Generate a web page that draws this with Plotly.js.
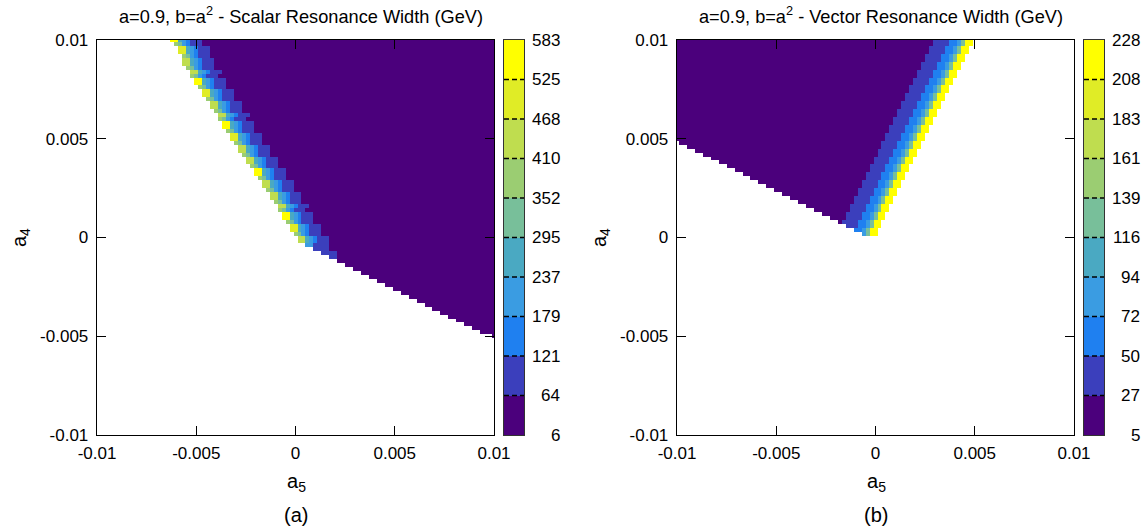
<!DOCTYPE html>
<html><head><meta charset="utf-8">
<script src="https://cdn.plot.ly/plotly-3.0.1.min.js"></script>
<style>html,body{margin:0;padding:0;background:#fff;}#chart{width:1146px;height:529px;}</style>
</head><body><div id="chart"></div>
<script>
// ---------------- grid (a5 columns, a4 rows), step 0.0002 ----------------
const GRID_MIN = -0.01, GRID_STEP = 0.0002, GRID_N = 101;
const a5Values = [];
const a4Values = [];
for (let i = 0; i < GRID_N; i++) { a5Values.push(+(GRID_MIN + i * GRID_STEP).toFixed(4)); a4Values.push(+(GRID_MIN + i * GRID_STEP).toFixed(4)); }

// axis ticks
const axisTickVals = [-0.01, -0.005, 0, 0.005, 0.01];
const axisTickText = ['-0.01', '-0.005', '0', '0.005', '0.01'];

// ---------------- (a) scalar resonance width ----------------
// rows from a4 = 0.01 (top) downwards: first filled a5 column index
const scalarStartCol = [19,20,21,21,22,22,22,23,24,24,25,25,26,27,27,28,29,29,30,31,31,32,32,33,34,34,35,36,36,37,38,38,39,40,40,41,42,42,43,44,44,45,46,46,47,47,48,49,49,50,51,
  51,53,55,57,59,61,63,65,67,69,71,73,75,77,79,81,83,85,87,89,91,93,95,97,100];
// band kind of each row (edge cells left of the interior)
const scalarBandKind = ['Y','L','E','E','L','B','B','L','B','L','Y','Y','L','E','E','L','B','B','L','B','L','Y','Y','L','E','E','L','B','B','L','B','B','L','Y','Y','L','B','B','L','B','B','L','B','L','Y','Y','L','E','E','L','B',
  'B','C','D','D','d','-','-','-','-','-','-','-','-','-','-','-','-','-','-','-','-','-','-','-','-'];
const scalarBandY = [560, 560, 280, 200, 150, 90, 90, 90];
const scalarBandE = [500, 500, 280, 200, 150, 90, 90, 90];
const scalarBandB = [440, 440, 280, 200, 150, 90, 90, 90];
const scalarBandL = [380, 300, 210, 150, 90, 90, 90];
const scalarBandC = [200, 200, 90, 90, 90, 90];
const scalarBandD = [90, 90, 90, 90];
const scalarBandd = [90, 90];
const scalarInterior = 30;
const scalarTickText = ['6','64','121','179','237','295','352','410','468','525','583'];
const scalarMin = 6, scalarMax = 583;

// ---------------- (b) vector resonance width ----------------
const vectorStartCol = [0,0,0,0,0,0,0,0,0,0,0,0,0,0,0,0,0,0,0,0,0,0,0,0,0,0,
  1,3,5,7,9,11,13,15,17,19,21,23,25,27,29,31,33,35,37,39,41,43,45,47];
const vectorEndCol = [74,74,73,73,72,72,71,71,70,70,69,69,68,68,67,67,66,66,65,65,64,64,63,63,62,62,
  61,61,60,60,59,59,58,58,57,57,56,56,55,55,54,54,53,53,52,52,51,51,50,50];
const vectorBand = [38, 38, 38, 38, 60, 60, 85, 125, 218, 218];
const vectorInterior = 15;
const vectorTickText = ['5','27','50','72','94','116','139','161','183','208','228'];
const vectorMin = 5, vectorMax = 228;

// ---------------- palette ----------------
const paletteColors = ['#4b007c','#3b3fbc','#1f80f0','#3a9ce2','#4aa9c2','#78bf9a','#9bcd72','#bfdd4f','#e0ec26','#ffff00'];
const colorscale = [];
paletteColors.forEach((c, i) => { colorscale.push([i / 10, c]); colorscale.push([(i + 1) / 10, c]); });

// ---------------- build z tables ----------------
function emptyGrid() { return Array.from({length: GRID_N}, () => Array(GRID_N).fill(null)); }
const scalarBands = {Y: scalarBandY, E: scalarBandE, B: scalarBandB, L: scalarBandL, C: scalarBandC, D: scalarBandD, d: scalarBandd};
const scalarZ = emptyGrid();
scalarStartCol.forEach((s, r) => {
  const j = GRID_N - 1 - r;
  const band = scalarBands[scalarBandKind[r]] || [];
  for (let c = s; c < GRID_N; c++) scalarZ[j][c] = (c - s < band.length) ? band[c - s] : scalarInterior;
});
const vectorZ = emptyGrid();
vectorStartCol.forEach((s, r) => {
  const j = GRID_N - 1 - r;
  const e = vectorEndCol[r];
  const b0 = e - vectorBand.length + 1;
  for (let c = s; c <= e; c++) vectorZ[j][c] = (c >= b0) ? vectorBand[c - b0] : vectorInterior;
});

// ---------------- layout helpers ----------------
const W = 1146, H = 529;
const FONT = 'Liberation Sans, Arial, Helvetica, sans-serif';
const FS = 17;
const yDom = [1 - 435 / H, 1 - 40 / H];
function mainAxis(domain, isY, anchor) {
  return {domain: domain, anchor: anchor, range: [-0.01, 0.01], tickmode: 'array', tickvals: axisTickVals, ticktext: axisTickText,
    ticks: 'inside', ticklen: 9, tickwidth: 1.2, tickcolor: '#000', showline: true, linecolor: '#000', linewidth: 1.3,
    mirror: 'ticks', showgrid: false, zeroline: false, ticklabelstandoff: isY ? 4 : 2,
    tickfont: {family: FONT, size: FS, color: '#000'}, fixedrange: true};
}
function barXAxis(domain, anchor) {
  return {domain: domain, anchor: anchor, range: [-0.5, 0.5], showticklabels: false, ticks: '', showgrid: false, zeroline: false,
    showline: true, linecolor: '#333', linewidth: 1.2, mirror: true, fixedrange: true};
}
function barYAxis(lo, hi, anchor) {
  return {domain: yDom, anchor: anchor, range: [lo, hi], showticklabels: false, ticks: '', showgrid: false, zeroline: false,
    showline: true, linecolor: '#333', linewidth: 1.2, mirror: true, fixedrange: true};
}

function barTrace(lo, hi, xa, ya) {
  const step = (hi - lo) / 10, ys = [], zs = [];
  for (let k = 0; k < 10; k++) { ys.push(lo + (k + 0.5) * step); zs.push([lo + (k + 0.5) * step]); }
  return {type: 'heatmap', x: [0], y: ys, z: zs, zmin: lo, zmax: hi, colorscale: colorscale, showscale: false, hoverinfo: 'skip', xaxis: xa, yaxis: ya};
}

const shapes = [], annotations = [];
function barDecor(lo, hi, labels, xa, ya, labelRightPx) {
  const step = (hi - lo) / 10;
  labels.forEach((t, k) => {
    const y = lo + k * step;
    if (k > 0 && k < 10) shapes.push({type: 'line', xref: xa, yref: ya, x0: -0.5, x1: 0.5, y0: y, y1: y, line: {color: '#000', width: 1.3, dash: '5px,3px,5px,3px,4px,20px'}});
    annotations.push({xref: 'paper', yref: ya, x: labelRightPx / W, y: y, xanchor: 'right', yanchor: 'middle', showarrow: false, text: t, font: {family: FONT, size: FS, color: '#000'}});
  });
}
barDecor(scalarMin, scalarMax, scalarTickText, 'x3', 'y3', 562);
barDecor(vectorMin, vectorMax, vectorTickText, 'x4', 'y4', 1142);

function txt(x, y, text, size, opts) {
  annotations.push(Object.assign({xref: 'paper', yref: 'paper', x: x / W, y: 1 - y / H, xanchor: 'center', yanchor: 'middle', showarrow: false, text: text, font: {family: FONT, size: size, color: '#000'}}, opts || {}));
}
txt(301, 15, 'a=0.9, b=a<sup>2</sup> - Scalar Resonance Width (GeV)', 18.2);
txt(881, 15, 'a=0.9, b=a<sup>2</sup> - Vector Resonance Width (GeV)', 18.2);
txt(296, 482, 'a<sub>5</sub>', 20);
txt(876, 482, 'a<sub>5</sub>', 20);
txt(20, 238, 'a<sub>4</sub>', 20, {textangle: -90});
txt(600, 238, 'a<sub>4</sub>', 20, {textangle: -90});
txt(296, 515, '(a)', 20);
txt(876, 515, '(b)', 20);

const traces = [
  {type: 'heatmap', x: a5Values, y: a4Values, z: scalarZ, zmin: scalarMin, zmax: scalarMax, colorscale: colorscale, showscale: false, hoverinfo: 'skip', xaxis: 'x', yaxis: 'y'},
  {type: 'heatmap', x: a5Values, y: a4Values, z: vectorZ, zmin: vectorMin, zmax: vectorMax, colorscale: colorscale, showscale: false, hoverinfo: 'skip', xaxis: 'x2', yaxis: 'y2'},
  barTrace(scalarMin, scalarMax, 'x3', 'y3'),
  barTrace(vectorMin, vectorMax, 'x4', 'y4')
];

const layout = {
  width: W, height: H, margin: {l: 0, r: 0, t: 0, b: 0}, paper_bgcolor: '#fff', plot_bgcolor: '#fff', showlegend: false,
  font: {family: FONT, size: FS, color: '#000'},
  xaxis: mainAxis([97 / W, 494 / W], false, 'y'),
  yaxis: mainAxis(yDom, true, 'x'),
  xaxis2: mainAxis([677 / W, 1074 / W], false, 'y2'),
  yaxis2: mainAxis(yDom, true, 'x2'),
  xaxis3: barXAxis([504 / W, 524 / W], 'y3'),
  yaxis3: barYAxis(scalarMin, scalarMax, 'x3'),
  xaxis4: barXAxis([1084 / W, 1104 / W], 'y4'),
  yaxis4: barYAxis(vectorMin, vectorMax, 'x4'),
  shapes: shapes, annotations: annotations
};
Plotly.newPlot('chart', traces, layout, {displayModeBar: false, staticPlot: true});
</script></body></html>
